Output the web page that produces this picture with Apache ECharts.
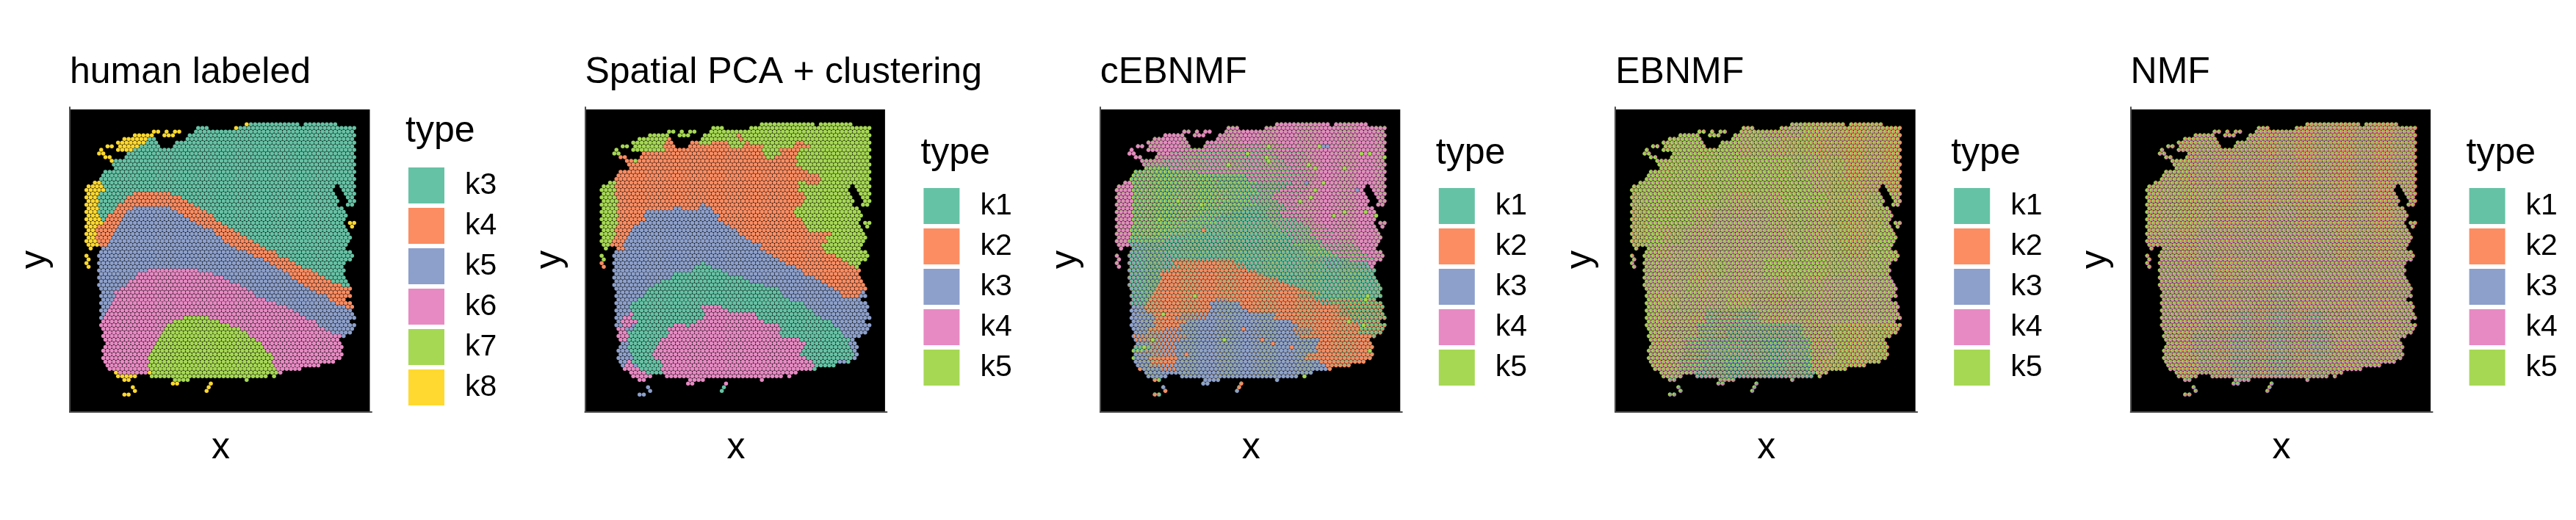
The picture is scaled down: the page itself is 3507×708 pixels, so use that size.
<!DOCTYPE html>
<html><head><meta charset="utf-8">
<style>html,body{margin:0;padding:0;background:#fff}#c{width:3507px;height:708px}</style>
<script src="https://cdn.jsdelivr.net/npm/echarts@6/dist/echarts.min.js"></script>
</head><body><div id="c"></div>
<script>
// Spot occupancy per array row: column runs.
const spotRuns = ["76 78-100 104-118","53-57 71 73-127","32 34 38 42 44 52-126","23-31 37-41 49-127","18-32 48-126","15-33 43-127","10 12 16-34 42-126","7 15-127","6 8 20-126","9 11 19-127","12-126","13-127","14-126","9-127","8-126","7-127","4-126","1-117 121-127","0-116 122-126","1-117 123-127","0-118 124-126","1-119 125 127","0-118 124 126","1-121","0-122","1-123","0-122","1-121 125 127","0-122 126","1-123","0-124","1-125","0-124","1-123","2 8-122","7-125","0 6-126","1 7-125","0 6-122","1 7-121","6-122","7-121","6-122","7-123","6-124","7-125","8-124","7-125","8-122","7-125","8-126","7-125","8-126","7-127","8-124","7-127","8-126","9-125","8-122","9-119","10-120","9-121","8-120","9-121","8-120","9-117","10-110","11-101","14-92","15-23 31-85 89","18 20 42-48 76","41 43 59","22 58","23 57","18 20"];

// "label:lastColumn" segments for every row.
const humanLabeled = ["8:76 3:127","3:57 8:71 3:127","8:44 3:127","8:41 3:127","8:28 3:127","8:27 3:127","8:24 3:127","8:21 3:127","8:8 3:127","8:11 3:127","8:12 3:127","3:127","3:127","3:127","3:127","3:127","8:6 3:127","8:7 3:127","8:8 3:127","8:5 3:21 4:39 3:127","8:4 3:18 4:44 3:127","8:5 3:17 4:47 3:127","8:4 3:14 4:50 3:127","8:5 3:13 4:21 5:39 4:53 3:127","8:4 3:12 4:18 5:42 4:56 3:127","8:5 3:9 4:17 5:45 4:59 3:127","8:6 3:8 4:16 5:48 4:60 3:127","8:7 4:15 5:51 4:63 3:121 8:127","8:4 4:14 5:54 4:66 3:122 8:127","8:3 4:13 5:59 4:69 3:127","8:4 4:12 5:60 4:72 3:127","8:3 4:11 5:63 4:75 3:127","8:4 4:10 5:64 4:78 3:127","8:5 4:9 5:67 4:81 3:127","8:2 5:70 4:84 3:127","5:75 4:89 3:127","8:0 5:78 4:90 3:127","8:1 5:83 4:95 3:127","8:0 5:86 4:98 3:127","8:1 5:89 4:101 3:127","5:29 6:52 5:92 4:106 3:127","5:24 6:60 5:95 4:109 3:127","5:22 6:64 5:96 4:112 3:127","5:20 6:67 5:99 4:115 3:127","5:18 6:72 5:102 4:120 3:127","5:16 6:75 5:105 4:127","5:13 6:78 5:108 4:127","5:13 6:80 5:113 4:127","5:12 6:85 5:115 4:127","5:11 6:89 5:118 4:127","5:10 6:94 5:122 4:127","5:9 6:97 5:127","5:8 6:101 5:127","5:7 6:45 7:57 6:103 5:127","6:40 7:62 6:108 5:127","6:37 7:67 6:110 5:127","6:36 7:72 6:112 5:127","6:35 7:75 6:115 5:127","6:34 7:77 6:120 5:127","6:33 7:79 6:127","6:32 7:82 6:127","6:31 7:83 6:127","6:30 7:85 6:127","6:29 7:87 6:127","6:28 7:88 6:127","6:29 7:87 6:127","6:28 7:88 6:127","6:29 7:89 6:127","8:14 6:28 8:30 7:90 6:127","8:23 7:127","8:20 7:127","8:127","8:127","8:127","8:127"];

const spatialPca = ["5:127","5:127","5:127","5:63 2:65 5:127","5:30 2:32 5:64 2:66 5:127","5:29 2:45 5:51 2:59 5:67 2:69 5:91 2:95 5:127","5:28 2:60 5:66 2:76 5:90 2:98 5:127","5:29 2:76 5:83 2:93 5:127","5:8 2:76 5:84 2:92 5:127","2:77 5:81 2:91 5:127","2:14 5:16 2:92 5:127","2:91 5:127","2:94 5:127","2:97 5:127","2:102 5:127","2:103 5:127","5:6 2:92 5:96 2:102 5:127","5:5 2:93 5:127","5:6 2:92 5:127","5:5 2:95 5:127","5:6 2:96 5:127","5:7 2:95 5:127","5:6 2:46 3:48 2:94 5:127","5:7 2:33 3:37 2:45 3:51 2:91 5:127","5:6 2:20 3:52 2:90 5:127","5:7 2:19 3:55 2:91 5:127","5:6 2:20 3:54 2:94 5:127","5:7 2:17 3:57 2:95 5:127","5:6 2:14 3:60 2:96 5:127","5:5 2:13 3:63 2:97 5:127","5:6 2:12 3:64 2:108 5:127","5:5 2:11 3:67 2:105 5:127","5:4 2:10 3:70 2:106 5:127","5:3 2:9 3:75 2:104 5:127","5:2 2:10 3:74 2:104 5:127","3:77 2:105 5:127","5:0 3:80 2:110 5:127","5:1 3:83 2:113 5:127","2:0 3:47 1:48 3:87 2:116 5:127","2:1 3:43 1:51 3:91 2:119 5:127","3:42 1:56 3:94 2:127","3:33 1:59 3:96 2:127","3:32 1:67 3:100 2:127","3:27 1:70 3:103 2:127","3:24 1:77 3:106 2:127","3:21 1:83 3:109 2:127","3:20 1:85 3:112 2:122 3:127","3:19 1:85 3:113 2:121 3:127","3:16 1:88 3:127","3:14 1:95 3:127","3:13 1:47 4:57 1:97 3:127","3:13 1:47 4:59 1:99 3:127","3:12 4:14 1:48 4:72 1:100 3:127","3:9 4:13 1:47 4:73 1:103 3:127","3:8 4:16 1:44 4:76 1:108 3:127","3:9 4:13 3:15 1:33 4:39 1:41 4:83 1:109 3:127","4:10 3:14 1:30 4:84 1:112 3:127","4:11 1:31 4:83 1:113 3:127","4:12 1:30 4:84 1:114 3:127","4:11 1:27 4:93 1:117 3:127","3:12 1:26 4:96 1:116 3:127","3:11 1:25 4:95 1:117 3:127","3:12 1:24 4:94 1:118 3:127","3:13 1:23 4:93 1:119 3:127","3:14 1:24 4:96 1:118 3:127","3:11 4:13 1:27 4:99 1:111 3:115 1:127","3:10 4:14 3:16 1:28 4:100 1:127","4:17 1:27 4:99 1:127","4:20 1:28 4:127","4:127","4:127","4:127","3:22 1:127","3:23 1:127","3:127"];

// [lastRow, segments]; letters name an estimated k1..k5 proportion mix.
const cebnmfBands = [[5,"P:127"],[6,"P:38 L:78 P:127"],[7,"P:32 L:60 M:74 L:84 P:127"],[8,"P:24 L:36 M:72 L:88 P:127"],[9,"P:20 L:30 M:76 L:90 P:127"],[10,"L:20 M:78 L:92 P:127"],[11,"M:80 L:94 P:127"],[12,"G:24 M:82 L:90 P:127"],[13,"G:38 M:84 L:92 P:127"],[14,"G:44 H:60 M:86 L:94 P:127"],[15,"G:48 H:62 M:84 L:96 P:127"],[16,"P:7 G:46 H:66 C:82 L:92 P:127"],[17,"P:7 G:48 H:64 C:80 L:92 P:127"],[18,"P:7 G:52 H:66 C:76 L:90 P:127"],[19,"P:7 G:50 H:68 C:74 L:88 P:127"],[20,"P:7 G:52 H:62 C:72 L:86 P:127"],[21,"P:7 G:50 H:64 C:76 L:84 P:127"],[22,"P:6 G:48 H:66 T:72 C:78 L:88 P:127"],[23,"P:7 G:44 H:60 T:72 C:80 L:86 P:127"],[24,"P:6 G:40 H:54 T:70 C:76 L:84 P:127"],[25,"P:7 G:36 H:50 T:72 C:78 L:88 P:127"],[26,"P:6 G:32 H:46 T:72 C:84 L:92 P:127"],[27,"P:7 G:30 H:48 T:74 C:88 L:94 P:127"],[28,"P:6 G:28 H:40 T:76 C:90 L:98 P:127"],[29,"P:5 G:24 H:36 T:78 C:92 L:100 P:127"],[30,"P:6 G:20 H:32 T:80 C:90 L:102 P:127"],[31,"P:5 H:26 T:84 C:94 L:102 P:127"],[32,"P:4 H:22 T:82 C:96 L:112 P:127"],[33,"P:5 B:20 T:84 H:96 M:112 P:127"],[34,"P:2 B:22 T:88 H:98 M:114 P:127"],[35,"B:24 T:90 H:102 M:116 P:127"],[36,"P:0 B:26 T:92 H:104 M:118 P:127"],[37,"P:1 B:26 E:56 T:92 B:110 M:122 P:127"],[38,"P:1 B:26 O:54 E:60 T:98 B:118 P:127"],[39,"P:1 B:26 E:30 O:56 E:62 T:100 B:120 P:127"],[40,"B:20 E:25 O:61 E:66 T:127"],[41,"B:20 O:66 E:70 T:127"],[42,"B:20 O:71 E:76 T:127"],[43,"B:19 O:75 E:80 T:127"],[44,"B:19 O:80 E:84 T:127"],[45,"B:18 O:85 E:90 T:127"],[46,"B:17 O:90 E:96 T:127"],[47,"B:16 O:86 E:94 T:127"],[48,"B:14 O:47 R:53 O:93 E:100 Y:127"],[49,"B:14 O:44 N:58 O:95 E:102 Y:127"],[50,"N:13 O:45 N:59 O:104 E:108 Y:127"],[51,"N:14 O:43 N:62 O:105 E:110 Y:127"],[52,"N:16 O:30 R:43 N:74 O:105 E:110 Y:127"],[53,"N:17 O:28 R:41 N:74 O:109 E:112 Y:127"],[54,"N:17 O:32 N:82 O:109 E:114 Y:127"],[55,"N:18 O:29 N:86 O:114 E:116 Y:127"],[56,"N:14 O:22 R:30 N:82 R:92 O:115 Y:127"],[57,"N:13 R:28 N:84 R:92 O:114 Y:127"],[58,"R:32 N:87 O:120 Y:127"],[59,"R:29 N:95 O:127"],[60,"N:15 R:26 N:95 O:127"],[61,"T:15 R:27 N:93 O:127"],[62,"G:12 R:26 N:94 O:127"],[63,"N:15 R:28 N:90 O:127"],[64,"G:8 N:14 O:28 N:89 O:127"],[65,"N:15 O:28 N:95 O:127"],[66,"N:14 R:27 N:98 O:127"],[67,"O:11 N:20 R:27 N:100 O:127"],[69,"N:127"],[70,"O:18 G:20 N:127"],[71,"N:43 O:127"],[72,"N:22 O:127"],[73,"O:23 N:127"],[74,"O:18 T:127"]];
// Spots in the cEBNMF panel that read as nearly pure: [row, column, factor index 0..4].
const cebnmfPureSpots = [[6,57,4],[6,72,4],[6,96,4],[6,98,2],[6,100,2],[8,62,4],[8,116,4],[8,120,4],[9,127,4],[9,71,4],[10,72,4],[11,53,4],[11,91,4],[12,108,4],[12,94,4],[16,98,4],[16,90,2],[18,94,4],[18,114,2],[21,87,4],[20,92,4],[25,103,4],[24,108,4],[24,118,4],[25,123,4],[21,29,4],[22,40,4],[26,20,4],[29,41,1],[47,37,4],[52,22,4],[59,51,4],[59,17,4],[61,13,4],[62,120,4],[69,89,4],[55,117,4],[48,118,4],[47,119,4],[54,110,4],[61,83,1],[63,33,1],[56,60,1],[59,69,1],[60,74,1]];
const ebnmfBands = [[3,"a:40 a2:62 f:80 g:92 b:127"],[8,"a:50 a2:70 g:88 b:127"],[14,"a:76 a2:88 g:100 b:127"],[18,"a:84 a2:92 g:108 b:127"],[22,"a2:6 a:40 a2:70 a:92 g:112 a2:127"],[27,"g:6 a:28 a2:38 c:64 a2:90 g:118 a2:127"],[32,"g:6 a:14 a2:24 c:72 a2:96 g:116 a:127"],[36,"g:4 a2:16 c:76 a2:98 g:112 a:127"],[41,"c:30 a2:44 c:62 a:92 a2:127"],[46,"c:26 a2:34 c:70 a2:90 c:127"],[50,"a2:22 c:44 a2:56 f:80 c:127"],[54,"a2:14 f:34 e:60 f:84 c:127"],[58,"a2:12 f:30 e:44 e2:80 f:94 g:127"],[63,"f:24 e:36 e2:52 d:74 e2:84 f:96 g:127"],[67,"f:22 e:34 d:84 f:90 g:127"],[69,"f:28 d:86 g:127"],[74,"e:127"]];
const nmfBands = [[8,"u:56 v:127"],[16,"w:20 u:70 v:127"],[22,"w:36 u:90 v:127"],[28,"w:30 u:56 x:70 u:100 v:127"],[36,"u:24 x:88 u:127"],[44,"x:30 u:50 x:127"],[50,"x:50 z:70 x:127"],[56,"x:26 z:44 y:82 z:96 x:127"],[63,"u:20 z:34 y:88 x:127"],[69,"u:24 z:38 y:72 z:90 x:127"],[74,"y:127"]];

// Estimated k1..k5 proportions.
const cebnmfMix = {P:[.03,0,.01,.92,.04],L:[.14,.01,.02,.73,.1],M:[.3,.01,.02,.52,.15],G:[.42,.02,.03,.08,.45],H:[.58,.02,.03,.06,.31],C:[.55,.02,.03,.25,.15],T:[.76,.03,.05,.03,.13],B:[.58,.05,.25,.02,.1],E:[.45,.4,.08,0,.07],O:[.06,.86,.05,0,.03],N:[.01,.06,.92,0,.01],R:[.02,.5,.45,0,.03],Y:[.42,.28,.06,0,.24]};
const ebnmfMix = {a:[.02,.13,.02,.17,.66],a2:[.03,.16,.03,.24,.54],b:[.02,.42,.03,.13,.4],c:[.04,.1,.04,.37,.45],d:[.45,.07,.15,.13,.2],e:[.25,.1,.15,.2,.3],e2:[.35,.08,.17,.17,.23],f:[.05,.17,.05,.3,.43],g:[.02,.28,.03,.15,.52]};
const nmfMix = {u:[.07,.27,.07,.26,.33],v:[.06,.36,.06,.22,.3],w:[.05,.24,.05,.23,.43],x:[.08,.21,.08,.33,.3],y:[.17,.17,.17,.25,.24],z:[.12,.19,.12,.29,.28]};

const titles = ["human labeled","Spatial PCA + clustering","cEBNMF","EBNMF","NMF"];
const legendTitle = "type";
const humanTypes = ["k3","k4","k5","k6","k7","k8"];
const factorTypes = ["k1","k2","k3","k4","k5"];
const humanColors = ["#66C2A5","#FC8D62","#8DA0CB","#E78AC3","#A6D854","#FFD92F"];
const factorColors = ["#66C2A5","#FC8D62","#8DA0CB","#E78AC3","#A6D854"];

const FONT = "'Liberation Sans', Arial, sans-serif";
const STEP = 701.4;

function spotsInRow(row){
  const out = [];
  spotRuns[row].split(" ").forEach(run=>{
    const p = run.split("-").map(Number);
    const a = p[0], b = p.length>1 ? p[1] : p[0];
    for(let c=a;c<=b;c++) if((c+row)%2===0) out.push(c);
  });
  return out;
}
function labelAt(segments,c){
  const parts = segments.split(" ");
  for(const s of parts){ const [l,e]=s.split(":"); if(c<=+e) return l; }
  return parts[parts.length-1].split(":")[0];
}
function bandFor(bands,row){ for(const b of bands) if(row<=b[0]) return b[1]; return bands[bands.length-1][1]; }

function hardSeries(rows,names,colors,panel){
  const lists = names.map(()=>[]);
  rows.forEach((seg,row)=>spotsInRow(row).forEach(c=>{
    const i = names.indexOf("k"+labelAt(seg,c));
    if(i>=0) lists[i].push([c,row]);
  }));
  return names.map((n,i)=>({name:n,type:'scatter',xAxisIndex:panel,yAxisIndex:panel,data:lists[i],
    symbol:'circle',symbolSize:5.5,itemStyle:{color:colors[i],opacity:1},silent:true,animation:false,progressive:0,clip:false}));
}
function pieSeries(bands,mix,panel,pure){
  const lists = factorTypes.map(()=>[]);
  const pureAt = {};
  (pure||[]).forEach(s=>{ pureAt[s[0]+"_"+s[1]] = s[2]; });
  spotRuns.forEach((_,row)=>{
    const seg = bandFor(bands,row);
    spotsInRow(row).forEach(c=>{
      const key = row+"_"+c;
      if(key in pureAt){ lists[pureAt[key]].push([c,row,-Math.PI/2,Math.PI*1.5]); return; }
      const m = mix[labelAt(seg,c)], t = m.reduce((a,b)=>a+b,0);
      let a = -Math.PI/2;
      m.forEach((v,i)=>{ if(v>0){ const e=a+v/t*2*Math.PI; lists[i].push([c,row,a,e]); a=e; } });
    });
  });
  return factorTypes.map((n,i)=>({name:n,type:'custom',xAxisIndex:panel,yAxisIndex:panel,data:lists[i],
    coordinateSystem:'cartesian2d',encode:{x:0,y:1},silent:true,animation:false,progressive:0,clip:false,
    renderItem:(p,api)=>{
      const pt = api.coord([api.value(0),api.value(1)]);
      return {type:'sector',shape:{cx:pt[0],cy:pt[1],r:2.65,r0:0,startAngle:api.value(2),endAngle:api.value(3),clockwise:true},
        style:{fill:factorColors[i],stroke:factorColors[i],lineWidth:0.35},silent:true};
    }}));
}

const grids=[],xAxes=[],yAxes=[],titleList=[],legends=[],graphics=[];
for(let i=0;i<5;i++){
  const L = 95+STEP*i;
  grids.push({left:L,top:146,width:411,height:415,containLabel:false});
  xAxes.push({gridIndex:i,type:'value',min:-7.91,max:135.3,name:'x',nameLocation:'middle',nameGap:24,
    nameTextStyle:{fontSize:50,fontFamily:FONT,color:'#000'},
    axisLine:{show:true,onZero:false,lineStyle:{color:'#4d4d4d',width:2}},axisTick:{show:false},axisLabel:{show:false},splitLine:{show:false}});
  yAxes.push({gridIndex:i,type:'value',inverse:true,min:-4.69,max:78.8,name:'y',nameLocation:'middle',nameGap:22,
    nameTextStyle:{fontSize:50,fontFamily:FONT,color:'#000'},
    axisLine:{show:true,onZero:false,lineStyle:{color:'#4d4d4d',width:2}},axisTick:{show:false},axisLabel:{show:false},splitLine:{show:false}});
  titleList.push({text:titles[i],left:L,top:74,padding:0,textStyle:{fontSize:50,fontWeight:'normal',fontFamily:FONT,color:'#000'}});
  const names = i===0?humanTypes:factorTypes, cols = i===0?humanColors:factorColors;
  titleList.push({text:legendTitle,left:552+STEP*i,top:i===0?154:184,padding:0,textStyle:{fontSize:50,fontWeight:'normal',fontFamily:FONT,color:'#000'}});
  legends.push({orient:'vertical',left:556+STEP*i,top:i===0?228:256,padding:0,itemWidth:49,itemHeight:49,itemGap:6,selectedMode:false,
    textStyle:{fontSize:41,fontFamily:FONT,color:'#000',padding:[0,0,0,23]},
    data:names.map((n,j)=>({name:n,icon:'rect',itemStyle:{color:cols[j],borderWidth:0}}))});
  graphics.push({type:'rect',shape:{x:L,y:149,width:408.5,height:412},style:{fill:'#000'},z:-1,silent:true});
}
const series = [].concat(
  hardSeries(humanLabeled,humanTypes,humanColors,0),
  hardSeries(spatialPca,factorTypes,factorColors,1),
  pieSeries(cebnmfBands,cebnmfMix,2,cebnmfPureSpots),
  pieSeries(ebnmfBands,ebnmfMix,3),
  pieSeries(nmfBands,nmfMix,4));

const chart = echarts.init(document.getElementById('c'),null,{renderer:'canvas'});
chart.setOption({animation:false,backgroundColor:'#fff',title:titleList,legend:legends,grid:grids,xAxis:xAxes,yAxis:yAxes,graphic:graphics,series:series});
</script></body></html>
